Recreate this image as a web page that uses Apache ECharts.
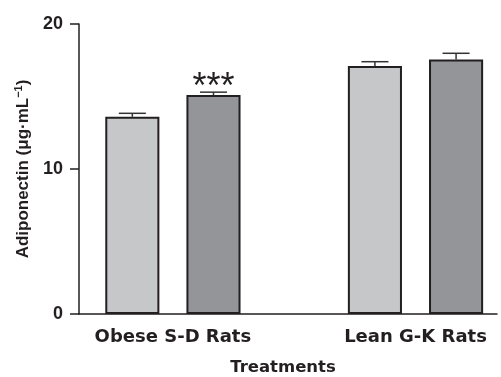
<!DOCTYPE html>
<html>
<head>
<meta charset="utf-8">
<title>Adiponectin by treatment</title>
<script src="https://cdn.jsdelivr.net/npm/echarts@6/dist/echarts.min.js"></script>
<style>
  html, body { margin: 0; padding: 0; background: #ffffff; }
  #chart { width: 501px; height: 377px; }
</style>
</head>
<body>
<div id="chart"></div>
<script>
// Group labels along the x axis
const categories = ['Obese S-D Rats', 'Lean G-K Rats'];

// Light bars: mean and SEM (µg·mL⁻¹)
const lightMeans = [13.6, 17.1];
const lightSEM = [0.24, 0.3];

// Dark bars: mean and SEM (µg·mL⁻¹)
const darkMeans = [15.1, 17.55];
const darkSEM = [0.2, 0.43];

// Significance marks printed above the dark bars
const darkMarks = ['***', ''];

// Y axis range and tick step
const yMin = 0;
const yMax = 20;
const yStep = 10;

const ink = '#231f20';
const lightFill = '#c6c7c9';
const darkFill = '#939598';
const sans = 'Liberation Sans';
const wide = 'DejaVu Sans';
const barShare = 0.223;   // bar width as a share of one category band

function errorSeries(name, means, sems, side, marks) {
  return {
    name: name,
    type: 'custom',
    xAxisIndex: 1,
    yAxisIndex: 1,
    z: 5,
    silent: true,
    data: means.map((m, i) => [i, m, sems[i]]),
    renderItem: function (params, api) {
      const idx = api.value(0);
      const mean = api.value(1);
      const sem = api.value(2);
      const band = api.size([1, 0])[0];
      const barW = band * barShare;
      const dx = side * barW * 0.75;
      const top = api.coord([idx, mean + sem]);
      const base = api.coord([idx, mean]);
      const cx = top[0] + dx;
      const half = barW / 4;
      const line = { stroke: '#333333', lineWidth: 1.5 };
      const children = [
        { type: 'line', shape: { x1: cx, y1: base[1], x2: cx, y2: top[1] }, style: line },
        { type: 'line', shape: { x1: cx - half, y1: top[1], x2: cx + half, y2: top[1] }, style: line }
      ];
      const mark = marks ? marks[params.dataIndex] : '';
      if (mark) {
        children.push({
          type: 'text',
          style: {
            text: mark,
            x: cx,
            y: top[1] - 4,
            align: 'center',
            verticalAlign: 'middle',
            fontFamily: sans,
            fontSize: 36,
            fill: ink
          }
        });
      }
      return { type: 'group', children: children };
    }
  };
}

const chart = echarts.init(document.getElementById('chart'), null, { renderer: 'canvas' });

chart.setOption({
  animation: false,
  backgroundColor: '#ffffff',
  grid: [
    { left: 79, right: 4, top: 24, bottom: 63, containLabel: false, outerBoundsMode: 'none' },
    { left: 51.6, width: 485.2, top: 24, bottom: 63, containLabel: false, outerBoundsMode: 'none' }
  ],
  xAxis: [
    {
      type: 'value',
      gridIndex: 0,
      min: 0,
      max: 1,
      axisLine: { show: true, lineStyle: { color: ink, width: 1.5 } },
      axisTick: { show: false },
      axisLabel: { show: false },
      splitLine: { show: false },
      name: 'Treatments',
      nameLocation: 'middle',
      nameGap: 45,
      nameTextStyle: {
        fontFamily: wide,
        fontWeight: 'bold',
        fontSize: 16.5,
        color: ink,
        padding: [0, 10, 0, 0]
      }
    },
    {
      type: 'category',
      gridIndex: 1,
      data: categories,
      axisLine: { show: false },
      axisTick: { show: false },
      splitLine: { show: false },
      axisLabel: {
        margin: 14,
        fontFamily: wide,
        fontWeight: 'bold',
        fontSize: 18,
        color: ink
      }
    }
  ],
  yAxis: [
    {
      type: 'value',
      gridIndex: 0,
      min: yMin,
      max: yMax,
      interval: yStep,
      axisLine: { show: true, lineStyle: { color: ink, width: 1.5 } },
      axisTick: { show: true, length: 9, lineStyle: { color: ink, width: 1.5 } },
      splitLine: { show: false },
      axisLabel: {
        margin: 16,
        fontFamily: sans,
        fontWeight: 'bold',
        fontSize: 18,
        color: ink
      },
      name: '{b|Adiponectin (μg·mL}{s|−1}{b|)}',
      nameLocation: 'middle',
      nameRotate: 90,
      nameGap: 46,
      nameTextStyle: {
        rich: {
          b: {
            fontFamily: sans,
            fontWeight: 'bold',
            fontSize: 17,
            lineHeight: 20,
            color: ink
          },
          s: {
            fontFamily: sans,
            fontWeight: 'bold',
            fontSize: 11,
            lineHeight: 12,
            verticalAlign: 'top',
            color: ink
          }
        }
      }
    },
    {
      type: 'value',
      gridIndex: 1,
      min: yMin,
      max: yMax,
      show: false
    }
  ],
  series: [
    {
      name: 'light',
      type: 'bar',
      xAxisIndex: 1,
      yAxisIndex: 1,
      data: lightMeans,
      barWidth: (barShare * 100) + '%',
      barGap: '50%',
      itemStyle: { color: lightFill, borderColor: ink, borderWidth: 2 }
    },
    {
      name: 'dark',
      type: 'bar',
      xAxisIndex: 1,
      yAxisIndex: 1,
      data: darkMeans,
      barWidth: (barShare * 100) + '%',
      barGap: '50%',
      itemStyle: { color: darkFill, borderColor: ink, borderWidth: 2 }
    },
    errorSeries('light SEM', lightMeans, lightSEM, -1, null),
    errorSeries('dark SEM', darkMeans, darkSEM, 1, darkMarks)
  ]
});
</script>
</body>
</html>
